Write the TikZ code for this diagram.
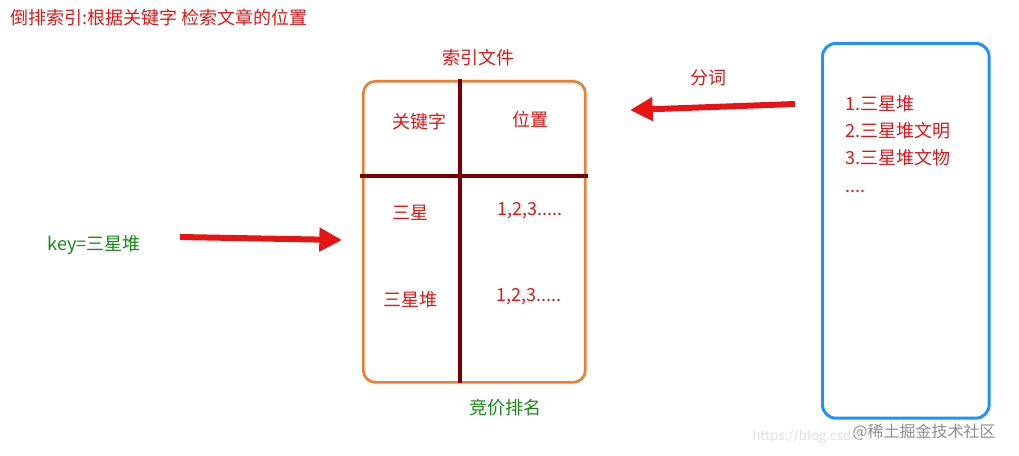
\documentclass[tikz,border=0pt]{standalone}
\usepackage{fontspec}
\setmainfont{Noto Sans CJK SC}
\usetikzlibrary{arrows.meta}
\definecolor{tred}{RGB}{230,20,20}
\definecolor{tgreen}{RGB}{20,140,20}
\definecolor{torange}{RGB}{237,125,49}
\definecolor{tdark}{RGB}{120,0,0}
\definecolor{tblue}{RGB}{30,144,255}
\tikzset{
  lbl/.style={font=\fontsize{13.5}{16}\selectfont, text=tred, inner sep=0pt},
  glbl/.style={lbl, text=tgreen},
  fatarrow/.style={tred, line width=4.5pt, -{Triangle[length=17pt,width=17pt]}},
}
\begin{document}
\begin{tikzpicture}[x=0.75pt,y=-0.75pt]
\useasboundingbox (0,0) rectangle (1019,456);
\node[lbl, anchor=west] (title) at (10,18) {倒排索引:根据关键字 检索文章的位置};
\node[draw=torange, line width=2pt, rounded corners=9pt, minimum width=166.5pt, minimum height=225.75pt, anchor=north west] (tbl) at (362,80) {};
\coordinate (vt) at (460,79); \coordinate (vb) at (460,383);
\coordinate (hl) at (360,176); \coordinate (hr) at (588,176);
\draw[tdark, line width=2.4pt] (vt) -- (vb);
\draw[tdark, line width=2.4pt] (hl) -- (hr);
\node[lbl] (idx) at (478,58) {索引文件};
\node[lbl] (kw) at (419,122) {关键字};
\node[lbl] (pos) at (530,120) {位置};
\node[lbl] (k1) at (410,213) {三星};
\node[lbl] (p1) at (530,211) {1,2,3.....};
\node[lbl] (k2) at (410,300) {三星堆};
\node[lbl] (p2) at (529,297) {1,2,3.....};
\node[glbl] (rank) at (505,408) {竞价排名};
\node[glbl] (key) at (94,245) {key=三星堆};
\coordinate (a1s) at (180,237); \coordinate (a1e) at (342,240);
\draw[fatarrow] (a1s) -- (a1e);
\coordinate (a2s) at (795,104); \coordinate (a2e) at (630,110);
\draw[fatarrow] (a2s) -- (a2e);
\node[lbl] (fc) at (708,78) {分词};
\node[draw=tblue, line width=2.2pt, rounded corners=10pt, minimum width=125pt, minimum height=281pt, anchor=north west] (doc) at (821,42) {};
\node[lbl, anchor=north west, align=left, font=\fontsize{13.5}{20.5}\selectfont] (list) at (845,95) {1.三星堆\\2.三星堆文明\\3.三星堆文物\\....};
\node[font=\fontsize{12}{14}\selectfont, text=black!45, inner sep=0pt] (wm) at (924,432) {@稀土掘金技术社区};
\node[font=\fontsize{10}{12}\selectfont, text=black!12, inner sep=0pt, anchor=west] (wm2) at (752,437) {https://blog.csdn};
\end{tikzpicture}
\end{document}
